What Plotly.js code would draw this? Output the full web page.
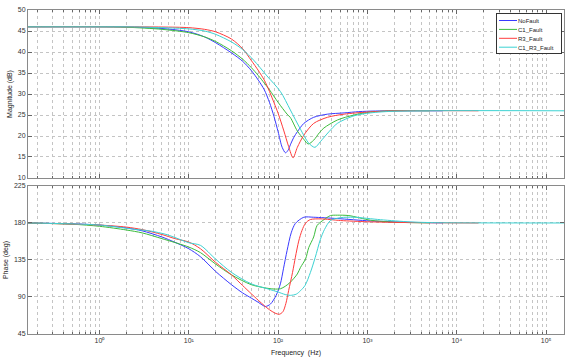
<!DOCTYPE html>
<html>
<head>
<meta charset="utf-8">
<script src="https://cdn.plot.ly/plotly-3.0.1.min.js"></script>
<style>html,body{margin:0;padding:0;background:#fff}#chart{width:576px;height:362px}</style>
</head>
<body>
<div id="chart"></div>
<script>
// Series names
const seriesNames = ['NoFault', 'C1_Fault', 'R3_Fault', 'C1_R3_Fault'];

// Magnitude (dB) – frequency (Hz) / value pairs per series
const magFreqNoFault = [0.158, 1, 2, 5, 10, 15, 20, 30, 40, 50, 60, 70, 80, 90, 100, 111, 121, 130, 137, 150, 164, 194, 250, 356, 548, 800, 1230, 7000];
const magNoFault     = [46.0, 46.0, 45.95, 45.6, 44.8, 43.6, 42.2, 39.8, 37.8, 35.6, 33.3, 31.0, 28.0, 24.6, 21.0, 17.3, 16.0, 16.7, 17.9, 19.7, 21.0, 23.0, 24.45, 25.2, 25.5, 25.8, 25.95, 26.0];

const magFreqC1 = [0.158, 1, 2, 5, 10, 15, 20, 30, 40, 50, 60, 70, 80, 100, 126, 137, 164, 194, 217, 250, 290, 325, 460, 707, 1080, 2000, 5000];
const magC1     = [46.0, 46.0, 45.9, 45.4, 44.6, 43.6, 42.5, 40.3, 38.3, 36.3, 34.4, 32.6, 31.0, 28.0, 25.2, 24.4, 21.2, 19.2, 18.1, 19.0, 20.8, 21.9, 23.8, 25.0, 25.7, 26.0, 26.0];

const magFreqR3 = [0.158, 1, 2, 5, 10, 15, 20, 30, 40, 50, 60, 70, 80, 90, 100, 116, 131, 147, 164, 194, 250, 356, 548, 1000, 2150, 17500];
const magR3     = [46.0, 46.0, 46.0, 45.95, 45.8, 45.4, 44.8, 43.1, 40.8, 38.0, 35.6, 33.3, 30.6, 27.9, 25.4, 21.2, 17.5, 14.8, 17.3, 20.2, 23.0, 24.45, 25.2, 25.7, 26.0, 26.0];

const magFreqC1R3 = [0.158, 1, 2, 5, 10, 15, 20, 30, 40, 53, 75, 106, 137, 178, 220, 258, 297, 370, 460, 707, 1080, 2000, 160000];
const magC1R3     = [46.0, 46.0, 46.0, 45.8, 45.5, 45.0, 44.2, 42.4, 40.6, 38.1, 34.3, 30.6, 26.2, 21.6, 18.3, 17.3, 18.65, 21.0, 23.0, 24.8, 25.5, 25.9, 26.0];

// Phase (deg)
const phFreqNoFault = [0.158, 0.3, 0.5, 1, 2, 3, 5, 7, 10, 13.5, 20, 30, 40, 50, 60, 72, 82, 95, 106, 115, 126, 140, 156, 194, 250, 460, 1080, 3000, 7000];
const phNoFault     = [180, 179.5, 179, 177.5, 174, 170.5, 163, 156.5, 148.7, 139, 121, 105, 95, 88.7, 83.5, 78.5, 81.4, 92, 106, 125, 146.6, 168, 179.5, 187, 187, 185.4, 182.5, 180.8, 180.2];

const phFreqC1 = [0.158, 0.5, 1, 2, 3, 5, 10, 13.5, 20, 30, 50, 77, 90, 106, 120, 137, 164, 178, 203, 220, 250, 273, 325, 385, 460, 620, 1080, 2000, 5000];
const phC1     = [180, 178.5, 176, 171.5, 168, 161, 150.7, 144, 130, 117, 105, 100.5, 99.7, 100, 103, 108, 118, 126, 136.4, 150, 163, 177, 184, 189, 189.5, 189, 183.4, 181, 180.2];

const phFreqR3 = [0.158, 1, 2, 3, 5, 7, 10, 13.5, 20, 30, 40, 50, 60, 70, 80, 92, 103, 113, 122, 131, 145, 156, 170, 185, 203, 230, 300, 500, 1000, 3000, 17500];
const phR3     = [180, 177.5, 175, 172, 166, 161, 156.8, 148.7, 132, 117, 104, 94, 86, 79.5, 74.5, 70.5, 69, 72, 82, 97.7, 120, 138.4, 158, 171, 180, 184.2, 185, 183, 181.5, 180.5, 180];

const phFreqC1R3 = [0.158, 1, 2.4, 3.7, 5.7, 10, 13.5, 20, 30, 50, 77, 100, 120, 137, 160, 178, 200, 230, 260, 297, 330, 385, 500, 707, 1400, 3000, 5100, 10000, 160000];
const phC1R3     = [180, 177.5, 172.5, 170.3, 165.8, 156, 152.8, 136, 120, 106, 99.8, 96, 93, 92, 93.5, 97.7, 104, 120, 138, 160, 172, 183, 186.5, 187, 184, 181.3, 180.5, 180.2, 180];

// Axis ticks
const freqTickVals = [1, 10, 100, 1000, 10000, 100000];
const freqTickText = ['10⁰', '10¹', '10²', '10³', '10⁴', '10⁵'];
const magTickVals = [10, 15, 20, 25, 30, 35, 40, 45, 50];
const phaseTickVals = [45, 90, 135, 180, 225];

const colors = ['#3a3aff', '#3cbc3c', '#ff3c3c', '#3cd2d2'];

const magF = [magFreqNoFault, magFreqC1, magFreqR3, magFreqC1R3];
const magV = [magNoFault, magC1, magR3, magC1R3];
const phF = [phFreqNoFault, phFreqC1, phFreqR3, phFreqC1R3];
const phV = [phNoFault, phC1, phR3, phC1R3];

const traces = [];
for (let i = 0; i < 4; i++) {
  traces.push({
    x: magF[i], y: magV[i], type: 'scatter', mode: 'lines',
    name: seriesNames[i], legendgroup: seriesNames[i],
    line: {color: colors[i], width: 1, shape: 'spline', smoothing: 0.8},
    xaxis: 'x', yaxis: 'y', hoverinfo: 'skip'
  });
}
for (let i = 0; i < 4; i++) {
  traces.push({
    x: phF[i], y: phV[i], type: 'scatter', mode: 'lines',
    name: seriesNames[i], legendgroup: seriesNames[i], showlegend: false,
    line: {color: colors[i], width: 1, shape: 'spline', smoothing: 0.8},
    xaxis: 'x2', yaxis: 'y2', hoverinfo: 'skip'
  });
}

// minor grid positions (2..9 per decade)
const minorVals = [];
for (let d = -1; d <= 5; d++) {
  for (let k = 2; k <= 9; k++) minorVals.push(k * Math.pow(10, d));
}

const FONT = 'Liberation Sans, Arial, sans-serif';
const tickFont = {family: FONT, size: 7, color: '#333'};
const gridCol = '#c4c4c4';

function xAxis(showLabels, anchor) {
  return {
    type: 'log', range: [-0.8, 5.2], anchor: anchor,
    tickmode: 'array', tickvals: freqTickVals, ticktext: freqTickText,
    showticklabels: showLabels, tickfont: tickFont,
    ticks: 'inside', ticklen: 4, tickcolor: '#666',
    showgrid: true, gridcolor: gridCol, griddash: 'dot', gridwidth: 1,
    minor: {tickmode: 'array', tickvals: minorVals, showgrid: true, gridcolor: gridCol, griddash: 'dot', gridwidth: 1, ticks: 'inside', ticklen: 2, tickcolor: '#666'},
    showline: true, linecolor: '#8a8a8a', linewidth: 1, mirror: 'allticks',
    zeroline: false
  };
}

const layout = {
  width: 576, height: 362,
  margin: {l: 28, r: 12, t: 10, b: 28},
  paper_bgcolor: '#fff', plot_bgcolor: '#fff',
  showlegend: true,
  legend: {
    x: 0.995, xanchor: 'right', y: 0.99, yanchor: 'top',
    bgcolor: '#fff', bordercolor: '#333', borderwidth: 1,
    font: {family: FONT, size: 6, color: '#222'},
    tracegroupgap: 0, itemwidth: 30
  },
  xaxis: xAxis(false, 'y'),
  xaxis2: Object.assign(xAxis(true, 'y2'), {
    title: {text: 'Frequency  (Hz)', font: {family: FONT, size: 7, color: '#222'}, standoff: 6}
  }),
  yaxis: {
    domain: [0.4815, 1], range: [10, 50], tickmode: 'array', tickvals: magTickVals,
    tickfont: tickFont, ticks: 'inside', ticklen: 4, tickcolor: '#666',
    showgrid: true, gridcolor: gridCol, griddash: 'dot',
    showline: true, linecolor: '#8a8a8a', mirror: 'allticks', zeroline: false,
    title: {text: 'Magnitude (dB)', font: {family: FONT, size: 7, color: '#222'}, standoff: 4}
  },
  yaxis2: {
    domain: [0, 0.4568], range: [45, 225], tickmode: 'array', tickvals: phaseTickVals,
    tickfont: tickFont, ticks: 'inside', ticklen: 4, tickcolor: '#666',
    showgrid: true, gridcolor: gridCol, griddash: 'dot',
    showline: true, linecolor: '#8a8a8a', mirror: 'allticks', zeroline: false,
    title: {text: 'Phase (deg)', font: {family: FONT, size: 7, color: '#222'}, standoff: 4}
  }
};

Plotly.newPlot('chart', traces, layout, {staticPlot: true, displayModeBar: false}).then(function (gd) {
  // compact the legend like the MATLAB one (Plotly enforces a taller row height)
  const leg = gd.querySelector('g.legend');
  if (!leg) return;
  leg.setAttribute('transform', 'translate(496,13)');
  const bg = leg.querySelector('rect.bg');
  if (bg) { bg.setAttribute('width', 65); bg.setAttribute('height', 40); bg.setAttribute('x', 0.5); bg.setAttribute('y', 0.5); }
  const sb = leg.querySelector('.scrollbox');
  if (sb) { sb.setAttribute('transform', 'translate(0,0)'); sb.removeAttribute('clip-path'); }
  const grp = leg.querySelector('.groups');
  if (grp) grp.setAttribute('transform', 'translate(0,0)');
  leg.querySelectorAll('g.traces').forEach(function (el, i) {
    el.setAttribute('transform', 'translate(0,' + (7.5 + i * 8.9) + ')');
    el.querySelectorAll('path.js-line').forEach(function (p) { p.setAttribute('d', 'M3,0h18'); });
    el.querySelectorAll('text.legendtext').forEach(function (t) { t.setAttribute('x', 22); });
    el.querySelectorAll('rect.legendtoggle').forEach(function (r) { r.setAttribute('height', 8); r.setAttribute('y', -4); });
  });
});
</script>
</body>
</html>
